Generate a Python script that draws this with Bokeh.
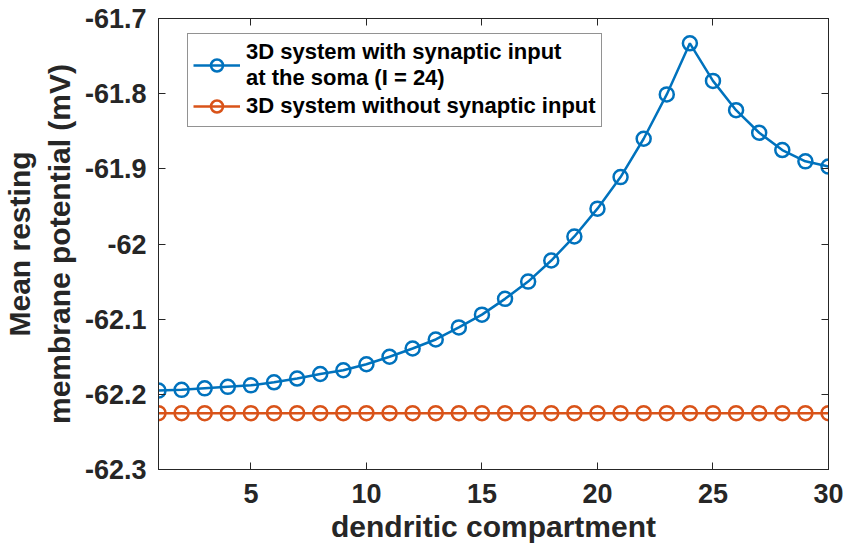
from bokeh.plotting import figure
from bokeh.models import LinearAxis, Legend, LegendItem, FixedTicker, Range1d
from bokeh.embed import file_html
from bokeh.resources import INLINE

# dendritic compartment index
compartment = list(range(1, 31))

# mean resting membrane potential (mV), synaptic input at the soma (I = 24)
with_input = [-62.195, -62.194, -62.192, -62.190, -62.188, -62.184, -62.179, -62.173,
              -62.168, -62.160, -62.150, -62.139, -62.127, -62.111, -62.094, -62.073,
              -62.050, -62.022, -61.990, -61.953, -61.911, -61.860, -61.801, -61.733,
              -61.783, -61.822, -61.852, -61.875, -61.890, -61.897]

# mean resting membrane potential (mV), no synaptic input
without_input = [-62.225] * 30

x_ticks = [5, 10, 15, 20, 25, 30]
y_ticks = [-62.3, -62.2, -62.1, -62.0, -61.9, -61.8, -61.7]
y_tick_labels = {-62.3: "-62.3", -62.2: "-62.2", -62.1: "-62.1", -62.0: "-62",
                 -61.9: "-61.9", -61.8: "-61.8", -61.7: "-61.7"}

BLUE = "#0072BD"
ORANGE = "#D95319"
DARK = "#262626"
FONT = "Liberation Sans"

p = figure(width=843, height=552, output_backend="svg", toolbar_location=None,
           x_range=Range1d(1, 30), y_range=Range1d(-62.3, -61.7),
           min_border_left=158, min_border_right=15, min_border_top=18,
           min_border_bottom=83, x_axis_location=None, y_axis_location=None)
p.grid.visible = False
p.outline_line_color = DARK
p.outline_line_width = 1
p.background_fill_color = "white"
p.border_fill_color = "white"


def style_axis(ax, show_labels):
    ax.axis_line_color = DARK
    ax.major_tick_line_color = DARK
    ax.major_tick_in = 7
    ax.major_tick_out = 0
    ax.minor_tick_line_color = None
    ax.major_label_text_font = FONT
    ax.major_label_text_font_style = "bold"
    ax.major_label_text_color = DARK if show_labels else None
    ax.major_label_text_font_size = "27px"
    ax.axis_label_text_font = FONT
    ax.axis_label_text_font_style = "bold"
    ax.axis_label_text_color = DARK


xb = LinearAxis(ticker=FixedTicker(ticks=x_ticks), axis_label="dendritic compartment")
style_axis(xb, True)
xb.major_label_standoff = 14
xb.axis_label_text_font_size = "30px"
xb.axis_label_standoff = 4
p.add_layout(xb, "below")

# ticks along the top and right edges of the box, without labels
xt = LinearAxis(ticker=FixedTicker(ticks=x_ticks))
style_axis(xt, False)
p.add_layout(xt, "above")

yl = LinearAxis(ticker=FixedTicker(ticks=y_ticks),
                axis_label="Mean resting\nmembrane potential (mV)")
style_axis(yl, True)
yl.major_label_overrides = y_tick_labels
yl.major_label_standoff = 12
yl.axis_label_text_font_size = "30px"
yl.axis_label_standoff = 6
p.add_layout(yl, "left")

yr = LinearAxis(ticker=FixedTicker(ticks=y_ticks))
style_axis(yr, False)
p.add_layout(yr, "right")

l1 = p.line(compartment, with_input, line_color=BLUE, line_width=2.5)
s1 = p.scatter(compartment, with_input, marker="circle", size=14, line_color=BLUE,
               line_width=2.5, fill_alpha=0)
l2 = p.line(compartment, without_input, line_color=ORANGE, line_width=2.5)
s2 = p.scatter(compartment, without_input, marker="circle", size=14, line_color=ORANGE,
               line_width=2.5, fill_alpha=0)

legend = Legend(items=[
    LegendItem(label="3D system with synaptic input\nat the soma (I = 24)", renderers=[l1, s1]),
    LegendItem(label="3D system without synaptic input", renderers=[l2, s2]),
], location=(29, 342))
legend.label_text_font = FONT
legend.label_text_font_style = "bold"
legend.label_text_font_size = "22px"
legend.label_text_color = "black"
legend.border_line_color = DARK
legend.border_line_width = 1
legend.glyph_width = 47
legend.glyph_height = 30
legend.label_standoff = 6
legend.padding = 5
legend.spacing = 0
legend.margin = 0
p.add_layout(legend, "center")

open("out.html", "w").write(file_html(p, INLINE))
